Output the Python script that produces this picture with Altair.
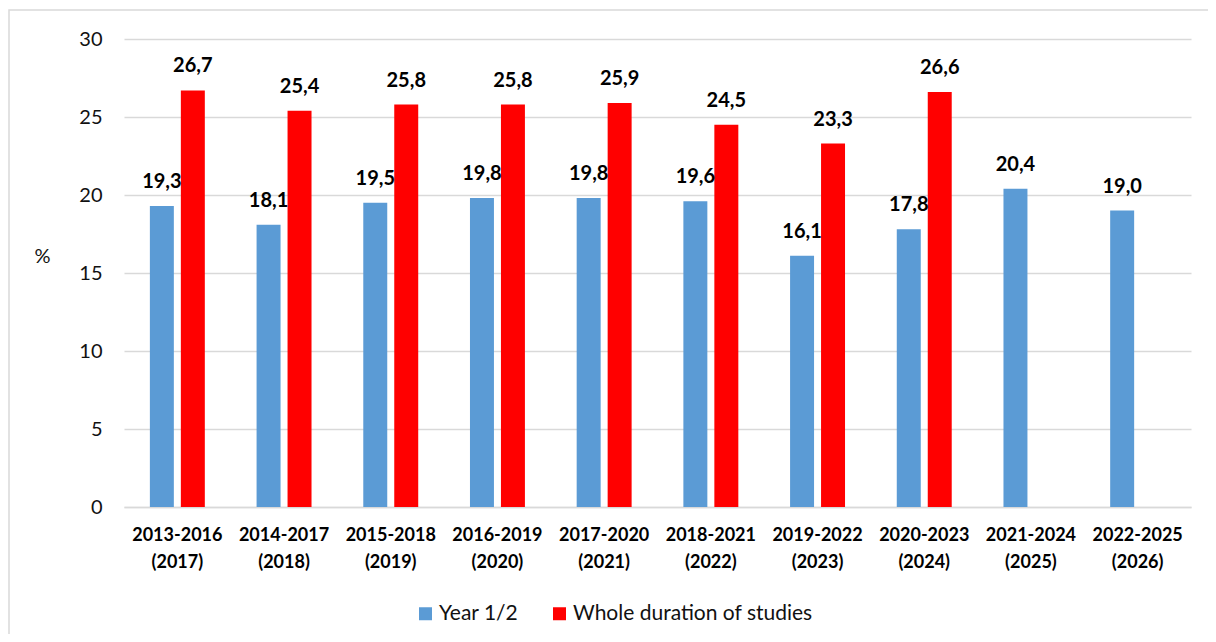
import altair as alt
import pandas as pd

categories = ["2013-2016 (2017)", "2014-2017 (2018)", "2015-2018 (2019)", "2016-2019 (2020)",
              "2017-2020 (2021)", "2018-2021 (2022)", "2019-2022 (2023)", "2020-2023 (2024)",
              "2021-2024 (2025)", "2022-2025 (2026)"]
year12 = [19.3, 18.1, 19.5, 19.8, 19.8, 19.6, 16.1, 17.8, 20.4, 19.0]
whole = [26.7, 25.4, 25.8, 25.8, 25.9, 24.5, 23.3, 26.6, None, None]
series_names = ["Year 1/2", "Whole duration of studies"]
series_colors = ["#5b9bd5", "#ff0000"]

rows = []
for c, a, b in zip(categories, year12, whole):
    for s, v in zip(series_names, [a, b]):
        if v is not None:
            rows.append({"cat": c, "series": s, "value": v,
                         "label": f"{v:.1f}".replace(".", ",")})
df = pd.DataFrame(rows)

FONT = "Lato"

base = alt.Chart(df).encode(
    x=alt.X("cat:N", sort=categories, title=None,
            scale=alt.Scale(paddingInner=0.485, paddingOuter=0.2425),
            axis=alt.Axis(labelExpr="split(datum.label, ' ')", labelAngle=0,
                          labelFontWeight="bold", labelFontSize=18, labelFont=FONT,
                          labelColor="#000", labelLineHeight=27, labelPadding=19,
                          ticks=False, domainColor="#d9d9d9", domainWidth=1.5,
                          grid=False)),
    xOffset=alt.XOffset("series:N", sort=series_names,
                        scale=alt.Scale(paddingInner=0.226, paddingOuter=0)),
)

bars = base.mark_bar().encode(
    y=alt.Y("value:Q", title="%", scale=alt.Scale(domain=[0, 30], nice=False),
            axis=alt.Axis(values=[0, 5, 10, 15, 20, 25, 30], labelFontSize=20,
                          labelFont=FONT, labelColor="#111", labelPadding=22,
                          ticks=False, domain=False, gridColor="#d9d9d9",
                          gridWidth=1.5, titleAngle=0, titleFontSize=20,
                          titleFont=FONT, titleFontWeight="normal", titleColor="#111",
                          titleX=-82, titleY=217, titleAlign="center",
                          titleBaseline="middle")),
    color=alt.Color("series:N", sort=series_names,
                    scale=alt.Scale(domain=series_names, range=series_colors),
                    legend=alt.Legend(title=None, orient="none", direction="horizontal",
                                      legendX=291, legendY=564, symbolType="square",
                                      symbolSize=169, symbolStrokeWidth=0,
                                      labelFontSize=21, labelFont=FONT, labelColor="#111",
                                      labelLimit=400, columnPadding=30, labelOffset=3,
                                      padding=0)),
)

text = base.mark_text(fontSize=20, fontWeight="bold", font=FONT, color="#000",
                      baseline="middle", dy=-24).encode(
    y=alt.Y("value:Q"),
    text="label:N",
)

frame = alt.Chart(pd.DataFrame({"k": [0]})).mark_rect(
    fill=None, stroke="#d9d9d9", strokeWidth=1.5, clip=False
).encode(x=alt.value(-115), x2=alt.value(1100), y=alt.value(-29), y2=alt.value(700))

chart = alt.layer(frame, bars, text).properties(
    width=1067, height=468,
    autosize=alt.AutoSizeParams(type="none"),
    padding={"left": 116, "top": 31, "right": 17, "bottom": 127},
).configure(background="white").configure_view(stroke=None, strokeWidth=0)

chart.save("out.html", embed_options={"renderer": "svg", "actions": False})
